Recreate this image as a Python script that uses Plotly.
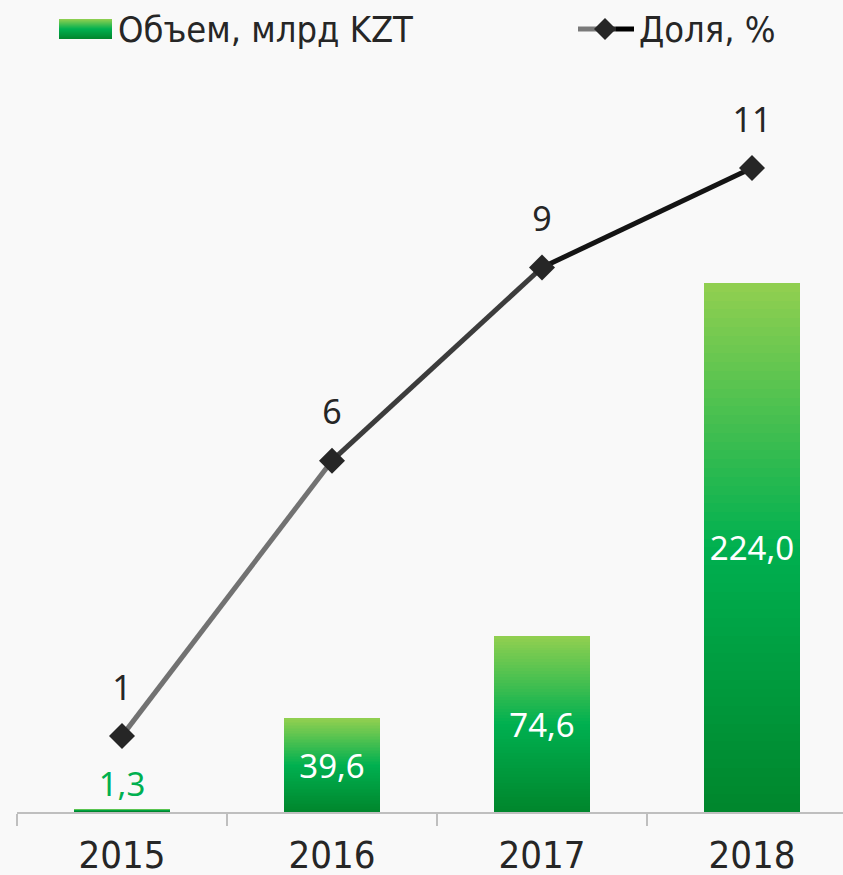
import plotly.graph_objects as go

# ---- data ----
years = ["2015", "2016", "2017", "2018"]
volume = [1.3, 39.6, 74.6, 224.0]          # Объем, млрд KZT
volume_labels = ["1,3", "39,6", "74,6", "224,0"]
share = [1.3, 6.0, 9.3, 11.0]              # Доля, %
share_labels = ["1", "6", "9", "11"]

legend_bar = "Объем, млрд KZT"
legend_line = "Доля, %"

# ---- styles ----
W, H = 843, 875
BG = "#f9f9f9"
TXT = "#262626"
GRAD = [(0.0, (0, 134, 44)), (0.5, (0, 176, 80)), (1.0, (146, 208, 80))]
SEG_COLORS = ["#727272", "#3c3c3c", "#141414"]
NARROW = "Liberation Sans Narrow, DejaVu Sans Condensed, Liberation Sans, sans-serif"
ROUND = "Noto Sans, DejaVu Sans, sans-serif"
BAR_W = 0.457
N = 60


def grad_color(t):
    for (t0, c0), (t1, c1) in zip(GRAD[:-1], GRAD[1:]):
        if t0 <= t <= t1:
            f = (t - t0) / (t1 - t0)
            c = [round(a + (b - a) * f) for a, b in zip(c0, c1)]
            return "rgb(%d,%d,%d)" % tuple(c)
    return "rgb(%d,%d,%d)" % GRAD[-1][1]


fig = go.Figure()

# gradient bars: overlay of shrinking bars
for k in range(N):
    f_top = 1 - k / N
    f_bot = 1 - (k + 1) / N
    col = grad_color((f_top + f_bot) / 2)
    fig.add_trace(go.Bar(
        x=years, y=[v * f_top for v in volume], width=BAR_W,
        marker=dict(color=col, line=dict(width=0)),
        hoverinfo="skip", showlegend=False))

# labels for bars
fig.add_trace(go.Bar(
    x=years, y=volume, width=BAR_W,
    marker=dict(color="rgba(0,0,0,0)", line=dict(width=0)),
    text=volume_labels, textposition=["outside", "inside", "inside", "inside"],
    insidetextanchor="middle", textangle=0, cliponaxis=False,
    textfont=dict(family=ROUND, size=33,
                  color=["#00b050", "white", "white", "white"]),
    showlegend=False, hoverinfo="skip"))

# line segments with darkening colour
for i in range(len(years) - 1):
    fig.add_trace(go.Scatter(
        x=years[i:i + 2], y=share[i:i + 2], yaxis="y2", mode="lines",
        line=dict(color=SEG_COLORS[i], width=5),
        showlegend=False, hoverinfo="skip"))

fig.add_trace(go.Scatter(
    x=years, y=share, yaxis="y2", mode="markers",
    marker=dict(symbol="diamond", size=20, color="#262626"),
    showlegend=False, hoverinfo="skip", cliponaxis=False))

# share labels (invisible larger marker to offset the text)
fig.add_trace(go.Scatter(
    x=years, y=share, yaxis="y2", mode="markers+text",
    marker=dict(size=43, opacity=0),
    text=share_labels, textposition="top center",
    textfont=dict(family=ROUND, size=34, color=TXT),
    showlegend=False, hoverinfo="skip", cliponaxis=False))

annotations = []
annotations.append(dict(xref="paper", yref="paper", x=116 / W, y=1 - 30 / H,
                        xanchor="left", yanchor="middle", text=legend_bar,
                        showarrow=False,
                        font=dict(family=NARROW, size=36, color=TXT)))
annotations.append(dict(xref="paper", yref="paper", x=637 / W, y=1 - 30 / H,
                        xanchor="left", yanchor="middle", text=legend_line,
                        showarrow=False,
                        font=dict(family=NARROW, size=36, color=TXT)))

shapes = []
NB = 20
for k in range(NB):
    y0 = 19 + k * (20 / NB)
    y1 = 19 + (k + 1) * (20 / NB)
    shapes.append(dict(type="rect", xref="paper", yref="paper",
                       x0=59 / W, x1=112 / W, y0=1 - y1 / H, y1=1 - y0 / H,
                       fillcolor=grad_color(1 - (k + 0.5) / NB),
                       line=dict(width=0), layer="above"))
lx = [578, 597, 616, 634]
for i in range(3):
    shapes.append(dict(type="line", xref="paper", yref="paper",
                       x0=lx[i] / W, x1=lx[i + 1] / W,
                       y0=1 - 29 / H, y1=1 - 29 / H,
                       line=dict(color=["#7a7a7a", "#2a2a2a", "#000000"][i], width=5)))
cx, cy, r = 605, 29, 11
shapes.append(dict(type="path", xref="paper", yref="paper",
                   path="M %f %f L %f %f L %f %f L %f %f Z" % (
                       (cx - r) / W, 1 - cy / H, cx / W, 1 - (cy - r) / H,
                       (cx + r) / W, 1 - cy / H, cx / W, 1 - (cy + r) / H),
                   fillcolor="#262626", line=dict(width=0)))

plot_bottom, plot_top = 812, 60
ppx_bar = 2.362
ppx_share = 58.55

fig.update_layout(
    width=W, height=H,
    margin=dict(l=0, r=0, t=0, b=0, autoexpand=False),
    paper_bgcolor=BG, plot_bgcolor=BG,
    barmode="overlay", bargap=0,
    showlegend=False,
    xaxis=dict(domain=[17 / W, 1], type="category",
               range=[-0.5, -0.5 + (W - 17) / 210],
               showline=True, linecolor="#bfbfbf", linewidth=2,
               ticks="outside", tickson="boundaries", ticklen=12,
               tickcolor="#bfbfbf", tickwidth=2, automargin=False,
               showgrid=False, zeroline=False, ticklabelstandoff=8,
               tickfont=dict(family=NARROW, size=38, color=TXT)),
    yaxis=dict(domain=[(H - plot_bottom) / H, (H - plot_top) / H],
               range=[0, (plot_bottom - plot_top) / ppx_bar],
               visible=False, showgrid=False, zeroline=False),
    yaxis2=dict(overlaying="y", range=[0, (plot_bottom - plot_top) / ppx_share],
                visible=False, showgrid=False, zeroline=False),
    annotations=annotations, shapes=shapes,
)

fig.write_html("out.html", config={"displayModeBar": False},
               post_script="document.body.style.margin='0';document.body.style.padding='0';")
